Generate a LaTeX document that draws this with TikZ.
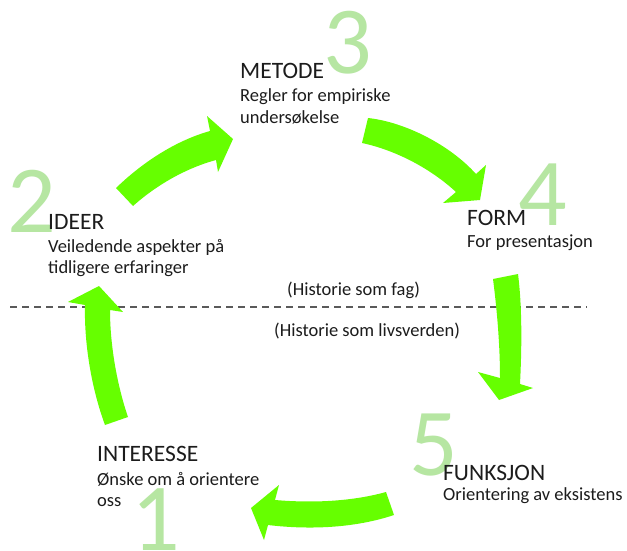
\documentclass[tikz,border=0pt]{standalone}
\usepackage{fontspec}
\setmainfont{Carlito}
\definecolor{arrowgreen}{RGB}{102,255,0}
\definecolor{numgreen}{RGB}{182,230,162}
\definecolor{txt}{RGB}{28,28,28}
\definecolor{dashgray}{RGB}{90,90,90}
\begin{document}
\begin{tikzpicture}[x=1pt,y=-1pt,
  num/.style={anchor=base,inner sep=0pt,text=numgreen,font=\fontsize{96}{96}\selectfont},
  head/.style={anchor=base west,inner sep=0pt,text=txt,font=\fontsize{23.5}{28}\selectfont},
  sub/.style={anchor=base west,inner sep=0pt,text=txt,font=\fontsize{18.5}{21}\selectfont},
  blockarrow/.style={fill=arrowgreen,draw=none},
  divider/.style={draw=dashgray,line width=1.6pt,dash pattern=on 6.5pt off 5.5pt}]
\fill[white] (0,0) rectangle (627,551);
\useasboundingbox (0,0) rectangle (627,551);

% big step numbers
\node[num] (n3) at (347.5,74) {3};
\node[num] (n2) at (31.5,232) {2};
\node[num] (n4) at (542.5,225) {4};
\node[num] (n5) at (433.5,475) {5};
\node[num] (n1) at (156,550) {1};

% divider
\coordinate (dl) at (10,307);
\coordinate (dr) at (587,307);
\draw[divider] (dl) -- (dr);

% block arrows
\fill[blockarrow] (116,188) .. controls (145,160) and (178,140) .. (210,131) -- (207,116) -- (233,139) -- (218,172) -- (216,160) .. controls (190,167) and (160,182) .. (133,206) -- cycle;
\fill[blockarrow] (368,118) .. controls (405,122) and (450,145) .. (476,174) -- (486,165) -- (480,200) -- (443,203) -- (456,192) .. controls (430,168) and (395,150) .. (362,143) -- cycle;
\fill[blockarrow] (518,274) .. controls (522,305) and (522,345) .. (520,384) -- (533,388) -- (499,400) -- (478,372) -- (500,378) .. controls (500,345) and (497,310) .. (493,279) -- cycle;
\fill[blockarrow] (386,492) .. controls (350,502) and (310,503) .. (275,500) -- (279,485) -- (251,508) -- (264,540) -- (268,525) .. controls (310,530) and (355,528) .. (394,515) -- cycle;
\fill[blockarrow] (105,425) .. controls (92,390) and (84,345) .. (85,305) -- (68,302) -- (99,286) -- (123,312) -- (110,310) .. controls (110,345) and (117,385) .. (128,417) -- cycle;

% texts
\node[head] (metode) at (240,78) {METODE};
\node[sub] (metode1) at (240,102) {Regler for empiriske};
\node[sub] (metode2) at (240,123) {undersøkelse};
\node[head] (ideer) at (48,229) {IDEER};
\node[sub] (ideer1) at (48,252) {Veiledende aspekter på};
\node[sub] (ideer2) at (48,273) {tidligere erfaringer};
\node[head] (form) at (467,225) {FORM};
\node[sub] (form1) at (467,247) {For presentasjon};
\node[head] (funksjon) at (443,480) {FUNKSJON};
\node[sub] (funksjon1) at (443,500) {Orientering av eksistens};
\node[head] (interesse) at (97,461) {INTERESSE};
\node[sub] (interesse1) at (97,485) {Ønske om å orientere};
\node[sub] (interesse2) at (97,506) {oss};
\node[sub] (fag) at (287,295) {(Historie som fag)};
\node[sub] (livs) at (274,336) {(Historie som livsverden)};
\end{tikzpicture}
\end{document}
